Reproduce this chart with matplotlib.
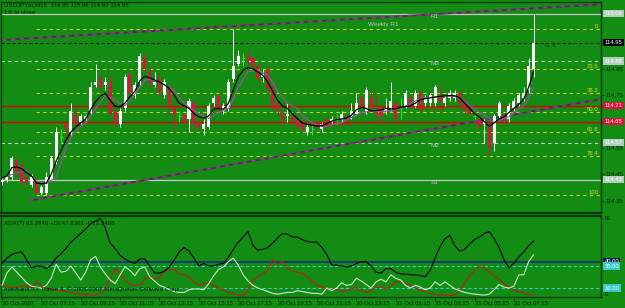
import numpy as np
import matplotlib.pyplot as plt

plt.rcParams['font.family'] = ['Liberation Sans', 'DejaVu Sans']

# USDJPYm M15 candles, bar 0 = 30 Oct 05:15
opens = [114.42, 114.43, 114.44, 114.50, 114.48, 114.44, 114.41, 114.42, 114.38, 114.38,
         114.43, 114.50, 114.59, 114.64, 114.61, 114.68, 114.65, 114.66, 114.69, 114.79,
         114.81, 114.79, 114.80, 114.69, 114.64, 114.70, 114.83, 114.75, 114.80, 114.89,
         114.84, 114.79, 114.81, 114.75, 114.78, 114.70, 114.67, 114.68, 114.66, 114.72,
         114.65, 114.62, 114.63, 114.72, 114.75, 114.69, 114.70, 114.81, 114.87, 114.89,
         114.90, 114.89, 114.86, 114.82, 114.85, 114.78, 114.72, 114.68, 114.67, 114.67,
         114.66, 114.65, 114.61, 114.62, 114.64, 114.62, 114.66, 114.65, 114.66, 114.66,
         114.67, 114.67, 114.68, 114.74, 114.69, 114.74, 114.69, 114.70, 114.69, 114.70,
         114.72, 114.70, 114.71, 114.74, 114.71, 114.76, 114.72, 114.72, 114.72, 114.75,
         114.72, 114.74, 114.74, 114.76, 114.73, 114.70, 114.67, 114.66, 114.64, 114.64,
         114.57, 114.67, 114.67, 114.66, 114.70, 114.72, 114.74, 114.77, 114.85]
highs = [114.44, 114.45, 114.52, 114.51, 114.50, 114.45, 114.45, 114.43, 114.41, 114.46,
         114.52, 114.63, 114.62, 114.65, 114.72, 114.70, 114.68, 114.68, 114.80, 114.87,
         114.83, 114.82, 114.83, 114.70, 114.70, 114.83, 114.84, 114.80, 114.91, 114.91,
         114.86, 114.84, 114.83, 114.81, 114.79, 114.71, 114.69, 114.68, 114.74, 114.73,
         114.66, 114.66, 114.72, 114.75, 114.76, 114.72, 114.81, 115.00, 114.92, 114.91,
         114.92, 114.90, 114.87, 114.85, 114.86, 114.79, 114.73, 114.69, 114.72, 114.68,
         114.67, 114.66, 114.64, 114.64, 114.65, 114.65, 114.67, 114.67, 114.68, 114.69,
         114.68, 114.72, 114.76, 114.75, 114.78, 114.77, 114.76, 114.71, 114.74, 114.80,
         114.73, 114.74, 114.77, 114.75, 114.77, 114.77, 114.75, 114.76, 114.79, 114.79,
         114.75, 114.77, 114.77, 114.77, 114.74, 114.71, 114.68, 114.67, 114.66, 114.65,
         114.68, 114.73, 114.68, 114.72, 114.74, 114.76, 114.78, 114.89, 115.06]
lows = [114.41, 114.42, 114.43, 114.44, 114.41, 114.41, 114.40, 114.37, 114.37, 114.37,
        114.43, 114.49, 114.57, 114.58, 114.60, 114.63, 114.64, 114.65, 114.68, 114.78,
        114.77, 114.77, 114.67, 114.63, 114.63, 114.69, 114.75, 114.74, 114.79, 114.84,
        114.78, 114.78, 114.75, 114.74, 114.68, 114.62, 114.65, 114.64, 114.61, 114.62,
        114.62, 114.60, 114.62, 114.71, 114.69, 114.68, 114.69, 114.80, 114.86, 114.86,
        114.87, 114.85, 114.80, 114.80, 114.76, 114.69, 114.67, 114.64, 114.65, 114.64,
        114.62, 114.61, 114.60, 114.60, 114.62, 114.61, 114.63, 114.64, 114.64, 114.65,
        114.65, 114.66, 114.68, 114.70, 114.68, 114.69, 114.64, 114.65, 114.68, 114.69,
        114.65, 114.66, 114.70, 114.70, 114.70, 114.69, 114.71, 114.71, 114.71, 114.72,
        114.71, 114.73, 114.73, 114.71, 114.68, 114.67, 114.66, 114.62, 114.57, 114.52,
        114.54, 114.66, 114.64, 114.65, 114.69, 114.71, 114.73, 114.76, 114.82]
closes = [114.43, 114.44, 114.51, 114.46, 114.42, 114.42, 114.44, 114.38, 114.40, 114.44,
          114.51, 114.61, 114.59, 114.62, 114.69, 114.64, 114.67, 114.67, 114.78, 114.80,
          114.78, 114.80, 114.68, 114.64, 114.69, 114.82, 114.76, 114.79, 114.90, 114.85,
          114.80, 114.80, 114.76, 114.80, 114.71, 114.68, 114.67, 114.65, 114.73, 114.64,
          114.63, 114.64, 114.71, 114.74, 114.70, 114.71, 114.80, 114.86, 114.90, 114.89,
          114.88, 114.86, 114.81, 114.83, 114.77, 114.71, 114.69, 114.66, 114.68, 114.65,
          114.63, 114.62, 114.63, 114.62, 114.63, 114.64, 114.64, 114.66, 114.66, 114.68,
          114.66, 114.69, 114.72, 114.71, 114.77, 114.70, 114.68, 114.67, 114.70, 114.73,
          114.66, 114.70, 114.76, 114.71, 114.76, 114.70, 114.74, 114.75, 114.78, 114.73,
          114.74, 114.76, 114.76, 114.72, 114.69, 114.68, 114.67, 114.63, 114.65, 114.55,
          114.67, 114.72, 114.65, 114.71, 114.73, 114.75, 114.76, 114.86, 114.95]

# fast MA (black), one value per bar
ma_fast = [114.436, 114.444, 114.475, 114.478, 114.471, 114.456, 114.444, 114.417, 114.414, 114.417,
           114.45, 114.50, 114.54, 114.58, 114.61, 114.63, 114.645, 114.66, 114.695, 114.725,
           114.747, 114.758, 114.73, 114.708, 114.706, 114.72, 114.745, 114.765, 114.805, 114.822,
           114.816, 114.808, 114.80, 114.79, 114.775, 114.75, 114.72, 114.71, 114.70, 114.68,
           114.668, 114.664, 114.672, 114.697, 114.70, 114.697, 114.72, 114.77, 114.82, 114.845,
           114.855, 114.85, 114.838, 114.825, 114.80, 114.765, 114.73, 114.71, 114.70, 114.68,
           114.662, 114.645, 114.639, 114.637, 114.633, 114.634, 114.643, 114.652, 114.658, 114.66,
           114.664, 114.675, 114.695, 114.704, 114.70, 114.69, 114.692, 114.694, 114.70, 114.698,
           114.698, 114.705, 114.707, 114.71, 114.72, 114.734, 114.737, 114.74, 114.743, 114.746,
           114.748, 114.749, 114.748, 114.74, 114.72, 114.70, 114.68, 114.667, 114.65, 114.632,
           114.645, 114.66, 114.668, 114.685, 114.70, 114.715, 114.735, 114.78, 114.84]

# slow MA (purple), read at these bars
ma_slow_bars = [0, 3, 5, 7, 9, 11, 12, 13, 14, 15, 17, 18, 19, 20, 21, 22, 24, 25, 26, 27,
                28, 29, 30, 32, 33, 35, 36, 38, 40, 42, 44, 46, 47, 48, 49, 50, 52, 54, 55, 56,
                58, 60, 61, 63, 65, 66, 67, 69, 71, 73, 75, 77, 79, 81, 85, 89, 92, 94, 95, 97,
                99, 100, 102, 103, 104, 106, 107, 108]
ma_slow = [114.435, 114.456, 114.463, 114.425, 114.414, 114.44, 114.494, 114.55, 114.589, 114.616,
           114.646, 114.67, 114.70, 114.723, 114.749, 114.742, 114.719, 114.711, 114.73, 114.755,
           114.78, 114.807, 114.81, 114.799, 114.79, 114.768, 114.74, 114.704, 114.681, 114.662,
           114.685, 114.70, 114.735, 114.78, 114.81, 114.84, 114.845, 114.826, 114.80, 114.765,
           114.719, 114.70, 114.673, 114.646, 114.631, 114.631, 114.639, 114.646, 114.665, 114.685,
           114.688, 114.688, 114.692, 114.70, 114.738, 114.746, 114.746, 114.73, 114.711, 114.685,
           114.662, 114.646, 114.662, 114.669, 114.685, 114.711, 114.738, 114.78]

# trend line anchors (bar, price)
upper_trend = [(0, 114.96), (108, 115.08)]
lower_trend = [(5.5, 114.35), (108, 114.69)]

# fibonacci from bar 7 low to bar 47 high
fib_low, fib_high, fib_start = 114.37, 115.00, 7
fib_levels = [0, 23.6, 38.2, 50.0, 61.8, 76.4, 100]

r1, m3, m2, s1 = 115.06, 114.88, 114.57, 114.43
daily_pivot, weekly_pivot = 114.71, 114.65
bid = 114.95
price_ticks = [114.35, 114.45, 114.55, 114.75, 114.85]

# ADX(7)
adx = [38, 44, 48, 50, 51, 42, 33, 35, 35, 32, 36, 44, 49, 55, 62, 67, 72, 77, 83, 86,
       89, 78, 61, 55, 47, 43, 40, 38, 43, 43, 35, 27, 27, 29, 34, 42, 51, 56, 52, 44,
       35, 38, 35, 35, 37, 38, 45, 54, 62, 68, 74, 58, 53, 54, 56, 61, 67, 72, 71, 68,
       68, 65, 63, 62, 62, 56, 48, 36, 36, 35, 34, 35, 38, 40, 40, 35, 28, 27, 32, 32,
       28, 26, 26, 25, 25, 24, 23, 30, 44, 57, 66, 70, 58, 52, 54, 60, 65, 68, 72, 74,
       66, 56, 42, 33, 38, 45, 51, 58, 63.29]
plus_di = [13, 27, 34, 28, 22, 16, 12, 11, 10, 13, 21, 37, 28, 29, 35, 27, 19, 28, 42, 46,
           34, 26, 19, 15, 25, 34, 30, 24, 32, 34, 23, 18, 13, 11, 8, 6, 5, 5, 8, 9,
           9, 8, 15, 24, 31, 34, 40, 44, 36, 25, 18, 13, 10, 8, 6, 4, 3, 4, 5, 5,
           7, 6, 5, 4, 4, 3, 10, 7, 10, 16, 13, 14, 21, 18, 14, 10, 17, 20, 17, 25,
           21, 19, 13, 10, 13, 11, 8, 10, 17, 13, 17, 13, 9, 7, 5, 4, 3, 2.5, 2, 3,
           8, 14, 11, 10, 12, 25, 25, 40, 47.84]
minus_di = [13, 12, 10, 11, 12, 13, 10, 17, 13, 10, 9, 8, 7, 6, 5, 4, 3, 3, 2.5, 2,
            4, 9, 21, 32, 27, 19, 14, 13, 13, 20, 23, 20, 22, 29, 31, 31, 26, 25, 23, 17,
            13, 15, 16, 13, 10, 8, 5, 4, 2, 1.5, 9, 19, 23, 26, 30, 42, 37, 40, 33, 29,
            28, 27, 23, 18, 13, 11, 9, 8, 8, 7, 6, 9, 11, 7, 5, 7, 11, 11, 9, 12,
            17, 17, 15, 13, 10, 7, 6, 4, 2.5, 2, 1.6, 1.3, 2, 7, 16, 24, 30, 34, 33, 28,
            24, 20, 15, 11, 8, 6, 4, 3, 2.35]
adx_levels = [40, 35, 10]

time_labels = ['30 Oct 2007', '30 Oct 07:15', '30 Oct 09:15', '30 Oct 11:15', '30 Oct 13:15',
               '30 Oct 15:15', '30 Oct 17:15', '30 Oct 19:15', '30 Oct 21:15', '30 Oct 23:15',
               '31 Oct 01:15', '31 Oct 03:15', '31 Oct 05:15', '31 Oct 07:15']

W, H = 625, 308
bg = '#128c12'
edge = '#0b3a0b'
txt = '#0a1f0a'
fig = plt.figure(figsize=(W / 100, H / 100), dpi=100)
fig.patch.set_facecolor(bg)

ax = fig.add_axes([1 / W, 1 - 213 / H, 600 / W, 211 / H])
sub = fig.add_axes([1 / W, 1 - 297 / H, 600 / W, 81 / H])
for a in (ax, sub):
    a.set_facecolor(bg)
    a.set_xlim(-0.2, 121.7)
    for s in a.spines.values():
        s.set_color(edge)
        s.set_linewidth(1)
ax.spines['bottom'].set_linewidth(1.6)
sub.spines['top'].set_linewidth(1.6)
ax.set_ylim(114.303, 115.104)
sub.set_ylim(-0.2, 91.8)

# price scale
ax.set_xticks([])
ax.yaxis.tick_right()
ax.set_yticks(price_ticks)
ax.set_yticklabels([f'{p:.2f}' for p in price_ticks])
ax.tick_params(axis='y', length=2, width=0.6, color=edge, pad=1.5, labelsize=4.2, labelcolor=txt)

# horizontal levels
ax.axhline(r1, color='#c8c8c8', lw=0.9, zorder=1)
ax.axhline(s1, color='#c8c8c8', lw=0.9, zorder=1)
ax.axhline(m3, color='#c8dcc8', lw=0.8, dashes=(3, 3), zorder=1)
ax.axhline(m2, color='#c8dcc8', lw=0.8, dashes=(3, 3), zorder=1)
ax.axhline(daily_pivot, color='#e00000', lw=1, zorder=1)
ax.axhline(weekly_pivot, color='#e00000', lw=1, zorder=1)
ax.axhline(bid, color='#152015', lw=0.8, dashes=(3, 2), zorder=1)

fib_prices = [fib_high - f / 100 * (fib_high - fib_low) for f in fib_levels]
ax.hlines(fib_prices, fib_start, 121.7, color='#cfd22e', lw=0.8, linestyles=(0, (3, 3)), zorder=1)
ytr = ax.get_yaxis_transform()
for f, p in zip(fib_levels, fib_prices):
    lab = '0' if f == 0 else ('100' if f == 100 else f'{f:.1f}')
    ax.text(0.996, p, lab, transform=ytr, ha='right', va='bottom', fontsize=4.3, color='#d8d83a')

# trend channel
for (x0, y0), (x1, y1) in (upper_trend, lower_trend):
    k = (y1 - y0) / (x1 - x0)
    xs = [x0, 121.7]
    ys = [y0, y0 + k * (121.7 - x0)]
    ax.plot(xs, ys, color='#3a3a3a', lw=1.3, zorder=2, solid_capstyle='butt')
    ax.plot(xs, ys, color='#9c3296', lw=1.3, dashes=(2.5, 2.5), zorder=2)

# candles
o, h, l, c = (np.array(v) for v in (opens, highs, lows, closes))
x = np.arange(len(o))
up, dn, dj = c > o, c < o, c == o
ax.vlines(x[up], l[up], h[up], color='#ffffff', lw=0.7, zorder=3)
ax.vlines(x[dn], l[dn], h[dn], color='#dc143c', lw=0.7, zorder=3)
ax.vlines(x[dj], l[dj], h[dj], color='#2ee82e', lw=0.7, zorder=3)
ax.hlines(o[dj], x[dj] - 0.3, x[dj] + 0.3, color='#2ee82e', lw=0.7, zorder=3)
ax.bar(x[up], np.maximum(c[up] - o[up], 0.004), bottom=o[up], width=0.62, color='#ffffff', lw=0, zorder=3)
ax.bar(x[dn], np.maximum(o[dn] - c[dn], 0.004), bottom=c[dn], width=0.62, color='#dc143c', lw=0, zorder=3)

ax.plot(ma_slow_bars, ma_slow, color='#a24fb0', lw=0.8, zorder=4)
ax.plot(x, ma_fast, color='#000000', lw=0.9, zorder=4)

# level labels
lc = '#c4c4c4'
ax.text(87, r1, 'R1', color=lc, fontsize=4.6, va='top', ha='left')
ax.text(87, m3, 'M3', color=lc, fontsize=4.6, va='top', ha='left')
ax.text(87, m2, 'M2', color=lc, fontsize=4.6, va='top', ha='left')
ax.text(87, s1, 'S1', color=lc, fontsize=4.6, va='top', ha='left')
ax.text(74.4, 115.017, 'Weekly R1', color=lc, fontsize=4.6, va='center', ha='left')
ax.text(84, daily_pivot, 'Daily Pivot', color='#e01010', fontsize=4.6, va='top', ha='left')
ax.text(63.6, weekly_pivot, 'Weekly Pivot', color='#e01010', fontsize=4.6, va='top', ha='left')
ax.text(110, bid, '+1.6', color='#1a3a1a', fontsize=4.6, va='top', ha='left')

boxes = [(r1, '#b4ccc0', '#ffffff'), (bid, '#000000', '#ffffff'), (m3, '#b4ccc0', '#ffffff'),
         (daily_pivot, '#e0103c', '#ffffff'), (weekly_pivot, '#e0103c', '#ffffff'),
         (m2, '#b4ccc0', '#ffffff'), (s1, '#b4ccc0', '#ffffff')]
for p, fc, tc in boxes:
    ax.text(1.006, p, f'{p:.2f}', transform=ytr, ha='left', va='center', fontsize=4.2, color=tc,
            bbox=dict(boxstyle='square,pad=0.2', fc=fc, ec='none'), zorder=6, clip_on=False)

fig.text(4 / W, 1 - 5 / H, 'USDJPYm,M15  114.85 115.06 114.82 114.95', fontsize=4.4, color=txt, va='center')
fig.text(4 / W, 1 - 13 / H, '1:6 to close', fontsize=4.4, color=txt, va='center')

# ADX window
sub.axhline(adx_levels[0], color='#1c2a88', lw=1.2, zorder=1)
for lv in adx_levels[1:]:
    sub.axhline(lv, color='#3cc8c8', lw=0.8, dashes=(3, 2), zorder=1)
sub.plot(x, minus_di, color='#c41a1a', lw=0.8, zorder=2)
sub.plot(x, plus_di, color='#c8ecc8', lw=0.8, zorder=3)
sub.plot(x, adx, color='#000000', lw=0.8, zorder=4)

sub.set_yticks([])
sub.set_xticks(x[::8])
sub.set_xticklabels(time_labels)
sub.tick_params(axis='x', length=2, width=0.6, color=edge, pad=1, labelsize=4.2, labelcolor=txt)
for t in sub.get_xticklabels():
    t.set_ha('left')

syt = sub.get_yaxis_transform()
sub.text(1.006, 91.8, '91', transform=syt, ha='left', va='top', fontsize=4.2, color=txt)
sub.text(1.006, -0.2, '0', transform=syt, ha='left', va='bottom', fontsize=4.2, color=txt)
sub_boxes = [(40, '#101848', '#ffffff'), (35, '#3cc8c8', '#ffffff'), (10, '#3cc8c8', '#ffffff')]
for v, fc, tc in sub_boxes:
    sub.text(1.006, v, f'{v:.2f}', transform=syt, ha='left', va='center', fontsize=4.2, color=tc,
             bbox=dict(boxstyle='square,pad=0.2', fc=fc, ec='none'), clip_on=False)

sub.text(0.005, 0.94, 'ADX(7) 63.2946 +DI:47.8361 -DI:2.3468', transform=sub.transAxes,
         fontsize=4.4, color=txt, va='top')
sub.text(0.005, 0.06, 'Interbank FX Trader 4, \u00a9 2001-2007 MetaQuotes Software Corp.',
         transform=sub.transAxes, fontsize=4.4, color=txt, va='bottom')

fig.savefig('out.png', dpi=100, facecolor=bg)
